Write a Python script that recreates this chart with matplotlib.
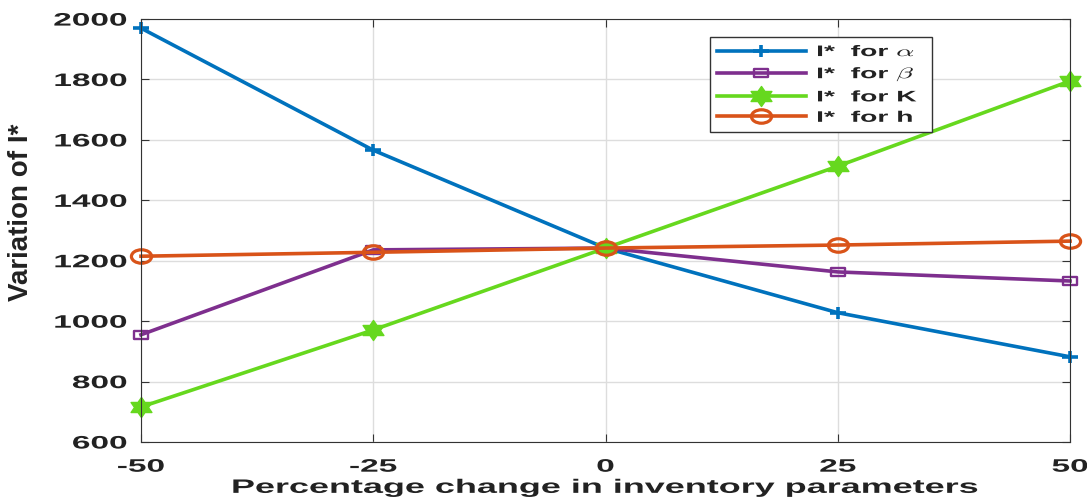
import numpy as np
import matplotlib.pyplot as plt
from matplotlib.path import Path
from matplotlib.patheffects import AbstractPathEffect
from matplotlib.transforms import Affine2D

plt.rcParams['font.family'] = ['Liberation Sans', 'DejaVu Sans']
plt.rcParams['font.weight'] = 'bold'
plt.rcParams['mathtext.fontset'] = 'cm'
plt.rcParams['axes.unicode_minus'] = False

# percentage change in parameters
pct = [-50, -25, 0, 25, 50]

# I* values for each parameter
I_alpha = [1970, 1566, 1242, 1028, 882]
I_beta = [955, 1236, 1242, 1163, 1133]
I_K = [716, 971, 1242, 1513, 1795]
I_h = [1215, 1228, 1242, 1252, 1265]


# the source picture is squeezed sideways, so text gets a wide look
class StretchX(AbstractPathEffect):
    def __init__(self, sx, anchor='center'):
        super().__init__()
        self.sx = sx
        self.anchor = anchor

    def draw_path(self, renderer, gc, tpath, affine, rgbFace=None):
        ext = tpath.get_extents(affine)
        if self.anchor == 'right':
            x0 = ext.x1
        elif self.anchor == 'left':
            x0 = ext.x0
        else:
            x0 = 0.5 * (ext.x0 + ext.x1)
        new = affine + Affine2D().translate(-x0, 0).scale(self.sx, 1).translate(x0, 0)
        renderer.draw_path(gc, tpath, new, rgbFace)


SX = 1.85

# wide markers, same reason
circ = Path.unit_circle()
m_circle = Path(circ.vertices * [1.5, 1.0], circ.codes)
m_square = Path([(-0.85, -0.5), (0.85, -0.5), (0.85, 0.5), (-0.85, 0.5), (-0.85, -0.5)],
                [Path.MOVETO, Path.LINETO, Path.LINETO, Path.LINETO, Path.CLOSEPOLY])
m_plus = Path([(-1.25, 0), (1.25, 0), (0, -1), (0, 1)],
              [Path.MOVETO, Path.LINETO, Path.MOVETO, Path.LINETO])
ang = np.deg2rad(90 + 30 * np.arange(12))
rad = np.where(np.arange(12) % 2 == 0, 1.0, 0.58)
hv = np.column_stack([1.2 * rad * np.cos(ang), rad * np.sin(ang)])
hv = np.vstack([hv, hv[:1]])
m_hex = Path(hv, [Path.MOVETO] + [Path.LINETO] * 11 + [Path.CLOSEPOLY])

fig = plt.figure(figsize=(10.87, 5.02), dpi=100)
ax = fig.add_axes([0.1297, 0.1175, 0.8547, 0.8425])

ax.plot(pct, I_alpha, color='#0072BD', lw=2.6, marker=m_plus, ms=11, mew=2.6,
        label=r'I*  for $\alpha$', clip_on=False)
ax.plot(pct, I_beta, color='#7E2F8E', lw=2.6, marker=m_square, ms=10, mew=1.7,
        mfc='none', label=r'I*  for $\beta$', clip_on=False)
ax.plot(pct, I_K, color='#66D81E', lw=2.6, marker=m_hex, ms=15,
        label='I*  for K', clip_on=False)
ax.plot(pct, I_h, color='#D95319', lw=2.6, marker=m_circle, ms=14.5, mew=2.3,
        mfc='none', label='I*  for h', clip_on=False)

ax.set_xlim(-50, 50)
ax.set_ylim(600, 2000)
ax.set_xticks(pct)
ax.set_yticks(np.arange(600, 2001, 200))
ax.grid(True, color='#dddddd', lw=1)
ax.tick_params(direction='in', top=True, right=True, labelsize=13, length=6,
               color='#333333')
ax.tick_params(axis='y', pad=10)
ax.tick_params(axis='x', pad=12)
for lab in ax.get_yticklabels():
    lab.set_fontweight('bold')
    lab.set_color('#222222')
    lab.set_path_effects([StretchX(SX, 'right')])
for lab in ax.get_xticklabels():
    lab.set_fontweight('bold')
    lab.set_color('#222222')
    lab.set_path_effects([StretchX(SX)])
for s in ax.spines.values():
    s.set_color('#333333')

xl = ax.set_xlabel('Percentage change in inventory parameters', fontsize=14,
                   fontweight='bold', labelpad=3, color='#222222')
xl.set_path_effects([StretchX(SX)])
ax.set_ylabel('Variation of I*', fontsize=20, fontweight='bold', color='#222222')
ax.yaxis.set_label_coords(-0.115, 0.546)

leg = ax.legend(loc='upper left', bbox_to_anchor=(0.6125, 0.745, 0.239, 0.212),
                mode='expand', fancybox=False, edgecolor='#333333', framealpha=1,
                handlelength=5.8, handletextpad=0.75, borderpad=0.45,
                labelspacing=0.42, borderaxespad=0,
                prop={'weight': 'bold', 'size': 11})
for t in leg.get_texts():
    t.set_path_effects([StretchX(SX, 'left')])
    t.set_color('#222222')

fig.savefig('out.png', dpi=100)
